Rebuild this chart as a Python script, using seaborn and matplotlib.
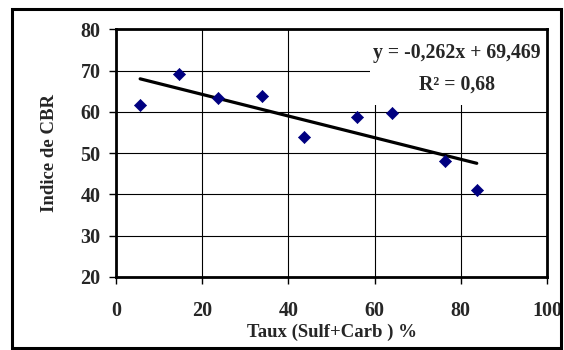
import matplotlib
matplotlib.use("Agg")
import matplotlib.pyplot as plt
from matplotlib.patches import Rectangle
import seaborn as sns
import pandas as pd
import numpy as np

# data
taux = [5.6, 14.7, 23.7, 33.9, 43.6, 55.8, 64.1, 76.3, 83.7]
cbr = [61.7, 69.1, 63.4, 63.8, 53.9, 58.8, 59.8, 48.1, 41.1]
slope = -0.262
intercept = 69.469
r2 = 0.68

df = pd.DataFrame({"taux": taux, "cbr": cbr})
x_fit = np.array([min(taux), max(taux)])
fit = pd.DataFrame({"taux": x_fit, "cbr": slope * x_fit + intercept})

sns.set_style("white")
plt.rcParams["font.family"] = ["Liberation Serif", "DejaVu Serif"]
plt.rcParams["font.weight"] = "bold"

fig = plt.figure(figsize=(5.64, 3.5), dpi=100)
ax = fig.add_axes([0.2057, 0.2086, 0.7642, 0.7077])

sns.lineplot(data=fit, x="taux", y="cbr", color="black", linewidth=2.3, ax=ax, zorder=3)
sns.scatterplot(data=df, x="taux", y="cbr", marker="D", s=38, color="#000080",
                edgecolor="#000080", ax=ax, zorder=4)

ax.set_xlim(0, 100)
ax.set_ylim(20, 80)
ax.set_xticks(range(0, 101, 20))
ax.set_yticks(range(20, 81, 10))
ax.grid(True, color="black", linewidth=0.8)
ax.set_axisbelow(True)
for sp in ax.spines.values():
    sp.set_visible(True)
    sp.set_color("black")
    sp.set_linewidth(2)

ax.tick_params(axis="both", direction="out", length=5, width=1, color="black",
               labelsize=14.5, bottom=True, left=True)
ax.tick_params(axis="x", pad=12)
ax.tick_params(axis="y", pad=6)
for lab in ax.get_xticklabels() + ax.get_yticklabels():
    lab.set_fontweight("bold")

ax.set_xlabel("Taux (Sulf+Carb ) %", fontsize=13.5, fontweight="bold", labelpad=2)
ax.set_ylabel("Indice de CBR", fontsize=13.5, fontweight="bold", labelpad=16)

# equation box covering the grid
ax.add_patch(Rectangle((59, 61.7), 41, 18.3, facecolor="white", edgecolor="none", zorder=2))
ax.text(79, 74.2, "y = -0,262x + 69,469", ha="center", va="center",
        fontsize=14.2, fontweight="bold", zorder=5)
ax.text(79, 66.6, "R² = " + f"{r2:.2f}".replace(".", ","), ha="center", va="center",
        fontsize=14.2, fontweight="bold", zorder=5)

# outer frame
fig.patches.append(Rectangle((0.0213, 0.0066), 0.9734, 0.9674, transform=fig.transFigure,
                             fill=False, edgecolor="black", linewidth=2.2))

fig.savefig("out.png", dpi=100)
